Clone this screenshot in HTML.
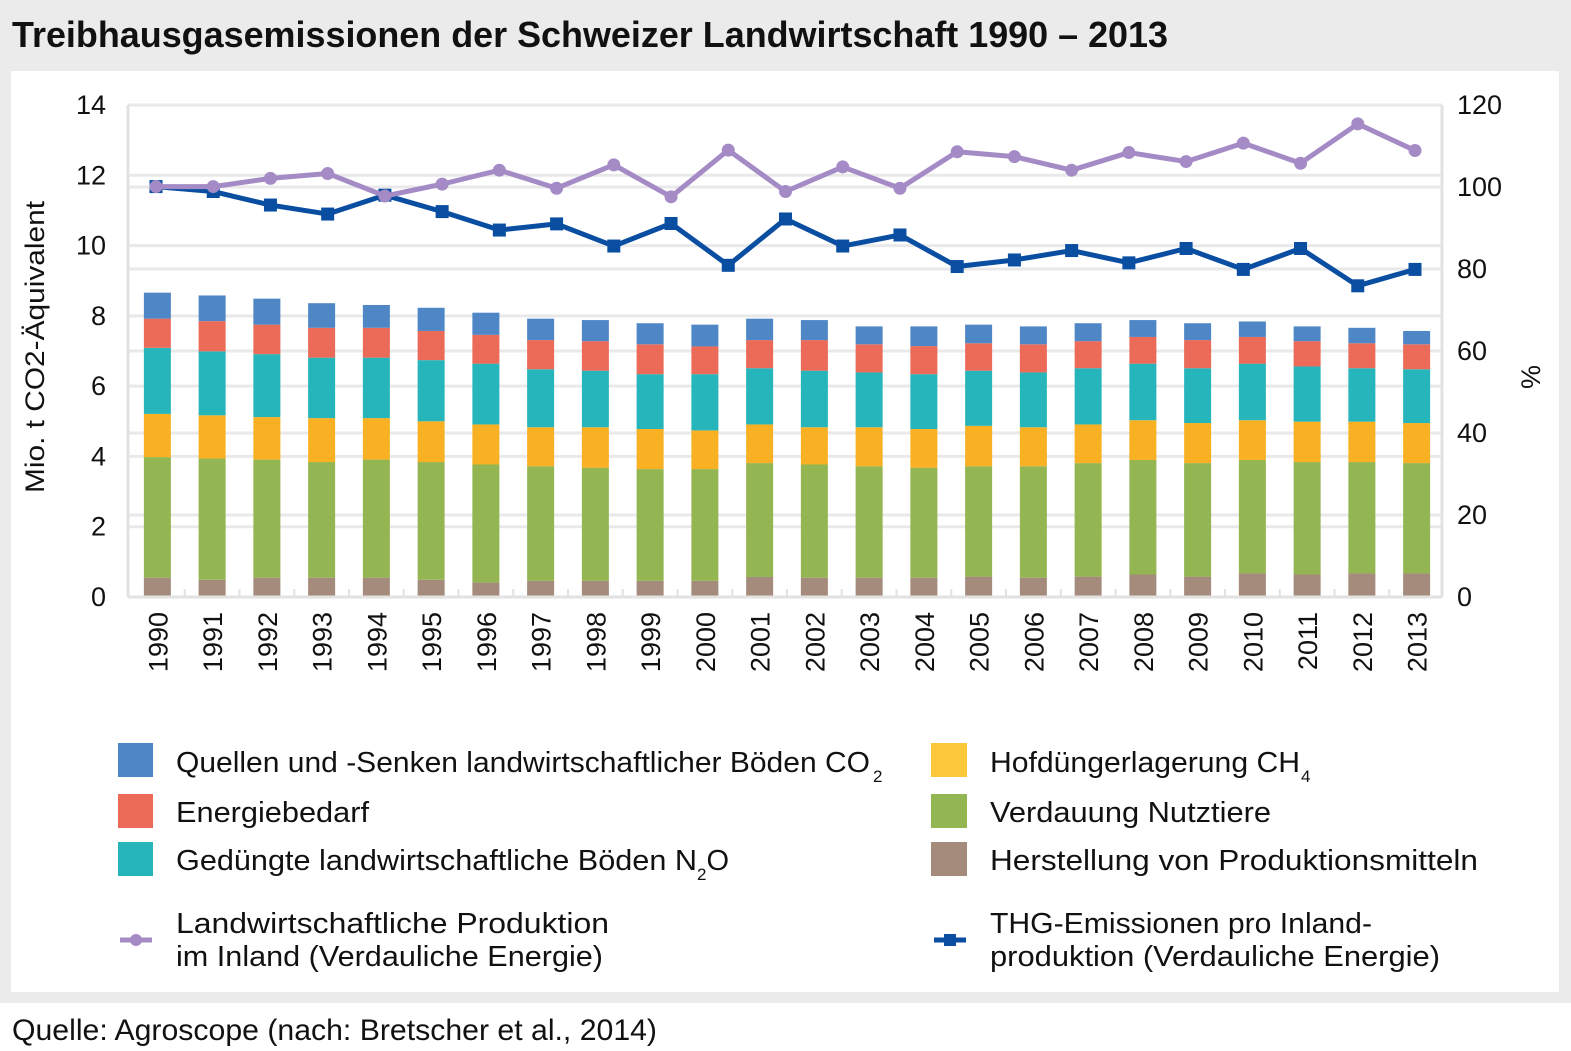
<!DOCTYPE html>
<html><head><meta charset="utf-8"><style>
html,body{margin:0;padding:0;background:#fff}
svg{display:block;font-family:"Liberation Sans",sans-serif}
</style></head><body>
<svg id="chart" width="1571" height="1051" viewBox="0 0 1571 1051" xmlns="http://www.w3.org/2000/svg">
<rect x="0" y="0" width="1571" height="1003" fill="#ebebeb"/>
<rect x="11" y="71" width="1548" height="921" fill="#fff"/>
<text x="12" y="47" font-size="36" font-weight="bold" fill="#111" textLength="1156" lengthAdjust="spacingAndGlyphs">Treibhausgasemissionen der Schweizer Landwirtschaft 1990 – 2013</text>
<g id="grid"></g>
<g id="bars"></g>
<g id="axes"></g>
<g id="lines"></g>
<text transform="translate(44,347) rotate(-90)" text-anchor="middle" font-size="27" fill="#111" textLength="292" lengthAdjust="spacingAndGlyphs">Mio. t CO2-Äquivalent</text>
<text transform="translate(1540,377) rotate(-90)" text-anchor="middle" font-size="27" fill="#111">%</text>
<g id="legend" font-size="29" fill="#111">
<rect x="118" y="743" width="35" height="34" fill="#4f86c6"/>
<text x="176" y="772" textLength="694" lengthAdjust="spacingAndGlyphs">Quellen und -Senken landwirtschaftlicher Böden CO</text>
<text x="873" y="782" font-size="17">2</text>
<rect x="118" y="794" width="35" height="34" fill="#ec6a58"/>
<text x="176" y="822" textLength="193" lengthAdjust="spacingAndGlyphs">Energiebedarf</text>
<rect x="118" y="842" width="35" height="34" fill="#26b5ba"/>
<text x="176" y="870"><tspan textLength="521" lengthAdjust="spacingAndGlyphs">Gedüngte landwirtschaftliche Böden N</tspan><tspan dy="10" font-size="17">2</tspan><tspan dy="-10">O</tspan></text>
<line x1="120" y1="940" x2="152" y2="940" stroke="#a58bc6" stroke-width="5"/>
<circle cx="136" cy="940" r="6" fill="#a58bc6"/>
<text x="176" y="933" textLength="433" lengthAdjust="spacingAndGlyphs">Landwirtschaftliche Produktion</text>
<text x="176" y="966" textLength="427" lengthAdjust="spacingAndGlyphs">im Inland (Verdauliche Energie)</text>
<rect x="931" y="743" width="36" height="34" fill="#fcc83a"/>
<text x="990" y="772" textLength="310" lengthAdjust="spacingAndGlyphs">Hofdüngerlagerung CH</text>
<text x="1301" y="782" font-size="17">4</text>
<rect x="931" y="794" width="36" height="34" fill="#93b552"/>
<text x="990" y="822" textLength="281" lengthAdjust="spacingAndGlyphs">Verdauung Nutztiere</text>
<rect x="931" y="842" width="36" height="34" fill="#a48b7b"/>
<text x="990" y="870" textLength="488" lengthAdjust="spacingAndGlyphs">Herstellung von Produktionsmitteln</text>
<line x1="934" y1="940" x2="966" y2="940" stroke="#0a4ea2" stroke-width="5"/>
<rect x="944" y="934" width="12" height="12" fill="#0a4ea2"/>
<text x="990" y="933" textLength="382" lengthAdjust="spacingAndGlyphs">THG-Emissionen pro Inland-</text>
<text x="990" y="966" textLength="450" lengthAdjust="spacingAndGlyphs">produktion (Verdauliche Energie)</text>
</g>
<text x="12" y="1040" font-size="30" fill="#111" textLength="645" lengthAdjust="spacingAndGlyphs">Quelle: Agroscope (nach: Bretscher et al., 2014)</text>
</svg>
<script>
const years = ["1990","1991","1992","1993","1994","1995","1996","1997","1998","1999","2000","2001","2002","2003","2004","2005","2006","2007","2008","2009","2010","2011","2012","2013"];
const herstellung = [0.55,0.49,0.55,0.55,0.55,0.49,0.41,0.46,0.46,0.46,0.46,0.57,0.55,0.55,0.55,0.58,0.55,0.58,0.64,0.58,0.67,0.64,0.67,0.67];
const verdauung = [3.43,3.45,3.36,3.29,3.36,3.35,3.36,3.26,3.22,3.18,3.18,3.24,3.22,3.17,3.13,3.14,3.17,3.23,3.26,3.23,3.23,3.20,3.17,3.14];
const hofduenger = [1.23,1.23,1.21,1.25,1.18,1.16,1.14,1.11,1.15,1.14,1.10,1.10,1.06,1.11,1.10,1.15,1.11,1.10,1.13,1.14,1.13,1.15,1.15,1.14];
const boedenN2O = [1.88,1.82,1.79,1.72,1.72,1.74,1.73,1.65,1.61,1.56,1.60,1.60,1.61,1.56,1.56,1.57,1.56,1.60,1.61,1.56,1.61,1.57,1.52,1.53];
const energie = [0.83,0.86,0.84,0.85,0.85,0.83,0.82,0.83,0.84,0.85,0.79,0.80,0.87,0.80,0.80,0.78,0.80,0.77,0.76,0.80,0.76,0.72,0.71,0.71];
const boedenCO2 = [0.74,0.73,0.74,0.70,0.65,0.66,0.63,0.61,0.60,0.60,0.62,0.61,0.57,0.51,0.56,0.53,0.51,0.51,0.48,0.48,0.44,0.42,0.44,0.38];
const produktion = [100.1,100.1,102.1,103.3,97.8,100.7,104.1,99.7,105.4,97.6,109.0,98.9,104.9,99.7,108.6,107.4,104.1,108.4,106.2,110.7,105.8,115.4,108.9];
const intensitaet = [100.1,98.9,95.6,93.4,98.0,94.0,89.5,91.0,85.6,91.1,80.9,92.2,85.6,88.3,80.6,82.2,84.5,81.5,85.0,79.9,85.0,75.9,79.9];
const leftTicks = ["0","2","4","6","8","10","12","14"];
const rightTicks = ["0","20","40","60","80","100","120"];

const NS = "http://www.w3.org/2000/svg";
const X0 = 128, X1 = 1442, Y0 = 597, YT = 105;
const yL = v => Y0 - (v / 14) * (Y0 - YT);
const yR = v => Y0 - (v / 120) * (Y0 - YT);
const step = (X1 - X0) / years.length;
const xB = i => X0 + 2 + step * (i + 0.5);
const xL = (i, n) => 156 + (1415 - 156) * i / (n - 1);
function mk(tag, attrs, parent) {
  const e = document.createElementNS(NS, tag);
  for (const k in attrs) e.setAttribute(k, attrs[k]);
  parent.appendChild(e);
  return e;
}
const grid = document.getElementById("grid");
const axes = document.getElementById("axes");
const bars = document.getElementById("bars");
const lines = document.getElementById("lines");

leftTicks.forEach(t => {
  const v = parseFloat(t);
  if (v > 0) {
    const g = mk("line", {x1: X0, x2: X1, y1: yL(v), y2: yL(v), stroke: "#e9e9e9", "stroke-width": 3}, grid);
    
    
  }
  const tx = mk("text", {x: 106, y: yL(v) + 9, "text-anchor": "end", "font-size": 27, fill: "#111"}, axes);
  tx.textContent = t;
  
  
});
rightTicks.forEach(t => {
  const v = parseFloat(t);
  if (v > 0 && v < 120) {
    const g = mk("line", {x1: X0, x2: X1, y1: yR(v), y2: yR(v), stroke: "#e9e9e9", "stroke-width": 3}, grid);
    
    
  }
  const tx = mk("text", {x: 1457, y: yR(v) + 9, "font-size": 27, fill: "#111"}, axes);
  tx.textContent = t;
  
  
});
const la = mk("line", {x1: X0, x2: X0, y1: YT, y2: Y0, stroke: "#e2e2e2", "stroke-width": 3}, axes);


const ra = mk("line", {x1: X1, x2: X1, y1: YT, y2: Y0, stroke: "#e2e2e2", "stroke-width": 3}, axes);


const ba = mk("line", {x1: X0, x2: X1, y1: Y0, y2: Y0, stroke: "#e2e2e2", "stroke-width": 3}, axes);



const series = [herstellung, verdauung, hofduenger, boedenN2O, energie, boedenCO2];
const colors = ["#a48b7b", "#93b552", "#f9b022", "#26b5ba", "#ec6a58", "#4f86c6"];
const snames = ["herstellung", "verdauung", "hofduenger", "boeden-n2o", "energie", "boeden-co2"];
const BW = 27;
years.forEach((yr, i) => {
  let cum = 0;
  series.forEach((s, k) => {
    const top = cum + s[i];
    const r = mk("rect", {x: xB(i) - BW / 2, y: yL(top), width: BW, height: yL(cum) - yL(top), fill: colors[k]}, bars);
    
    
    cum = top;
  });
  if (i > 0) {
    const tk = mk("line", {x1: xB(i) - step / 2, x2: xB(i) - step / 2, y1: Y0, y2: Y0 - 8, stroke: "#e2e2e2", "stroke-width": 2}, axes);
    
    
  }
  const lb = mk("text", {transform: "translate(" + (xB(i) + 10) + ",612) rotate(-90)", "text-anchor": "end", "font-size": 27, fill: "#111"}, axes);
  lb.textContent = yr;
  
  
});

function drawLine(vals, color, name, square) {
  const n = vals.length;
  const pts = vals.map((v, i) => xL(i, n) + "," + yR(v)).join(" ");
  const pl = mk("polyline", {points: pts, fill: "none", stroke: color, "stroke-width": 5, "stroke-linejoin": "round"}, lines);
  
  
  vals.forEach((v, i) => {
    let m;
    if (square) m = mk("rect", {x: xL(i, n) - 6.5, y: yR(v) - 6.5, width: 13, height: 13, fill: color}, lines);
    else m = mk("circle", {cx: xL(i, n), cy: yR(v), r: 6.5, fill: color}, lines);
    
    
  });
}
drawLine(intensitaet, "#0a4ea2", "intensity", true);
drawLine(produktion, "#a58bc6", "production", false);
</script>
</body></html>
